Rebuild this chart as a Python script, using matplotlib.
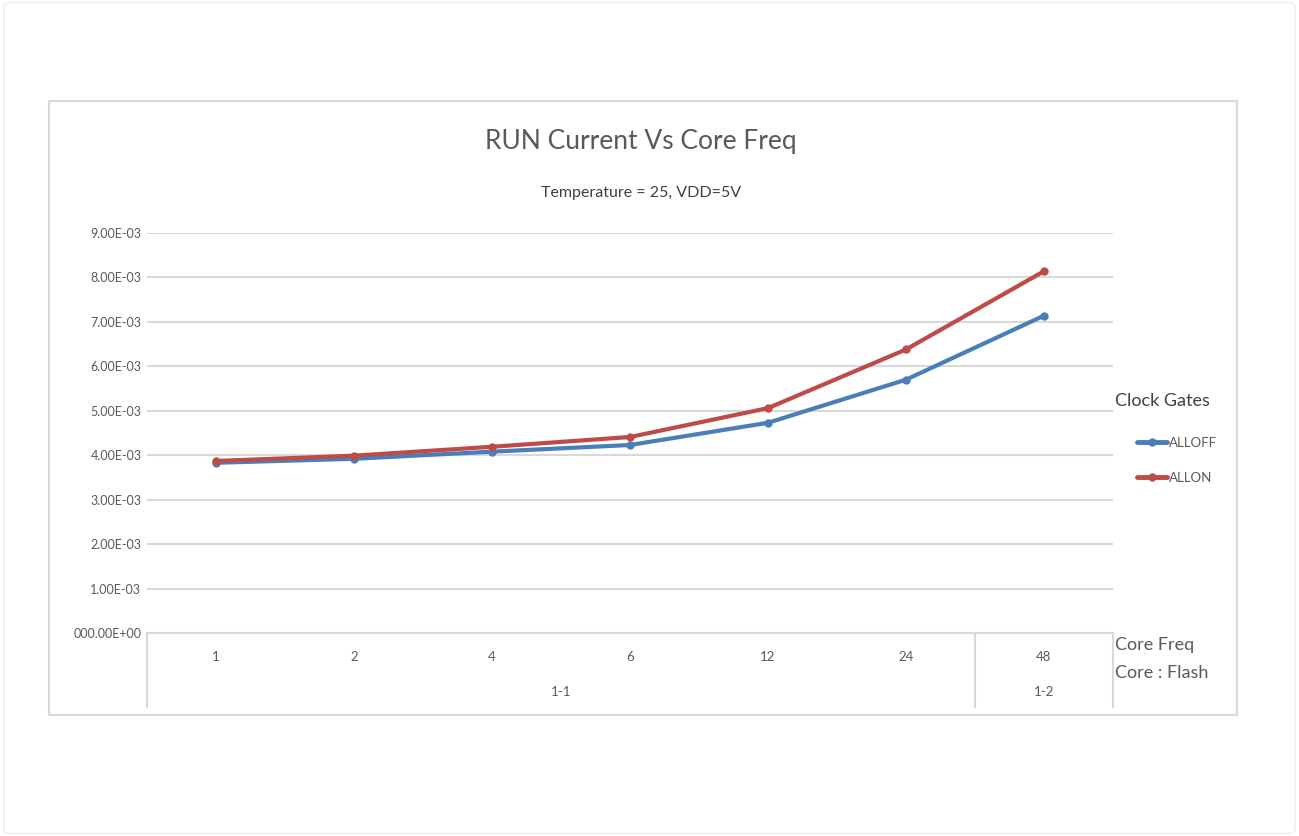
import matplotlib.pyplot as plt
from matplotlib.patches import Rectangle, FancyBboxPatch

plt.rcParams['font.family'] = ['Lato', 'DejaVu Sans']

freqs = ['1', '2', '4', '6', '12', '24', '48']
ratio_groups = ['1-1', '1-2']
group_sizes = [6, 1]
alloff = [3.83e-3, 3.92e-3, 4.08e-3, 4.23e-3, 4.73e-3, 5.70e-3, 7.14e-3]
allon = [3.87e-3, 3.99e-3, 4.19e-3, 4.41e-3, 5.06e-3, 6.38e-3, 8.14e-3]
yticks = [0, 1e-3, 2e-3, 3e-3, 4e-3, 5e-3, 6e-3, 7e-3, 8e-3, 9e-3]
ytick_labels = ['000.00E+00'] + ['%.2fE-03' % (v * 1e3) for v in yticks[1:]]

txt = '#595959'
grid = '#d9d9d9'

fig = plt.figure(figsize=(12.99, 8.36), dpi=100)
fig.patches.append(FancyBboxPatch((0.003, 0.003), 0.994, 0.994, boxstyle='round,pad=0,rounding_size=0.005',
                                  transform=fig.transFigure, fill=False, edgecolor='#eeeeee', lw=1))
fig.patches.append(Rectangle((49 / 1299, 1 - 715 / 836), (1237 - 49) / 1299, (715 - 101) / 836,
                             transform=fig.transFigure, fill=False, edgecolor='#d9d9d9', lw=1.5))

ax = fig.add_axes([147 / 1299, 1 - 633 / 836, (1113 - 147) / 1299, (633 - 233) / 836])
x = list(range(len(freqs)))
ax.plot(x, alloff, color='#4a7ebb', lw=3, marker='o', ms=5, label='ALLOFF', solid_capstyle='round')
ax.plot(x, allon, color='#be4b48', lw=3, marker='o', ms=5, label='ALLON', solid_capstyle='round')

ax.set_xlim(-0.5, len(freqs) - 0.5)
ax.set_ylim(0, 9e-3)
ax.set_yticks(yticks)
ax.set_yticklabels(ytick_labels, color=txt, fontsize=9)
ax.tick_params(axis='y', length=0, pad=4)
ax.set_xticks([])
for v in yticks[1:]:
    ax.axhline(v, color=grid, lw=1.5, zorder=0)
for s in ax.spines.values():
    s.set_visible(False)

# two-level category axis below the plot
depth = (707 - 633) / (633 - 233)
ax.plot([0, 1], [0, 0], transform=ax.transAxes, color=grid, lw=1.5, clip_on=False)
bounds = [0]
for g in group_sizes:
    bounds.append(bounds[-1] + g)
for b in bounds:
    xb = b / len(freqs)
    ax.plot([xb, xb], [0, -depth], transform=ax.transAxes, color=grid, lw=1.5, clip_on=False)
tf = ax.get_xaxis_transform()
for i, f in enumerate(freqs):
    ax.text(i, -(657 - 633) / 400, f, transform=tf, ha='center', va='center', color=txt, fontsize=9.5)
start = 0
for name, g in zip(ratio_groups, group_sizes):
    ax.text(start + (g - 1) / 2, -(692 - 633) / 400, name, transform=tf, ha='center', va='center',
            color=txt, fontsize=9.5)
    start += g

fig.text(1115 / 1299, 1 - 645 / 836, 'Core Freq', color=txt, fontsize=13, va='center')
fig.text(1115 / 1299, 1 - 673 / 836, 'Core : Flash', color=txt, fontsize=13, va='center')

fig.text(641 / 1299, 1 - 142 / 836, 'RUN Current Vs Core Freq', color=txt, fontsize=19, ha='center', va='center')
fig.text(641 / 1299, 1 - 193 / 836, 'Temperature = 25, VDD=5V', color='#404040', fontsize=11.5,
         ha='center', va='center')

fig.text(1115 / 1299, 1 - 401 / 836, 'Clock Gates', color='#404040', fontsize=13, va='center')
leg = ax.legend(loc='upper left', bbox_to_anchor=(1137 / 1299, 1 - 437 / 836), bbox_transform=fig.transFigure,
                frameon=False, fontsize=9.5, handlelength=2.3, handletextpad=0.1, labelspacing=1.75,
                borderaxespad=0, borderpad=0)
for t in leg.get_texts():
    t.set_color(txt)
for h in leg.get_lines():
    h.set_linewidth(3.5)

fig.savefig('out.png', dpi=100)
